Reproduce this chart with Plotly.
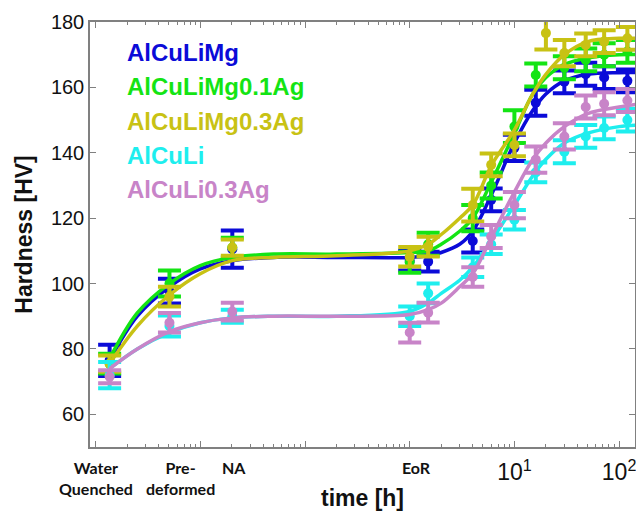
import numpy as np
import plotly.graph_objects as go

# Alloys, in drawing order
alloys = ["AlCuLiMg", "AlCuLiMg0.1Ag", "AlCuLiMg0.3Ag", "AlCuLi", "AlCuLi0.3Ag"]
colors = ["#0b0bd8", "#14e414", "#c8c214", "#1eeeee", "#c884c8"]

# Measurement times [h]: water quenched, pre-deformed, natural ageing,
# end of ramp, then artificial ageing
t_meas = [0.00136, 0.00507, 0.0202, 1, 1.5, 4, 6, 10, 16, 20, 30, 48, 72, 120]

hv_mg      = [76.5, 97.7, 110.5, 107, 106.7, 113, 125.6, 141.5, 155.3, None, 161.7, 164, 163, 162]
hv_mg01ag  = [75.5, 100, 111, 106.5, 112, 120, 130, 148, 163.8, None, 166, 168.4, 170, 171]
hv_mg03ag  = [75.5, 96, 111, 108.2, 111.3, 124, 136.3, 142.4, None, 176.6, 170.5, 173, 174, 175]
hv_li      = [72, 87, 90, 90, 97, 105, 112, 119.5, 134, None, 140.3, 145, 147.6, 150]
hv_li03ag  = [71.5, 88, 91.4, 85, 91.1, 102, 114.4, 124, 137.9, None, 145, 154, 155, 156]

err_mg     = [4.8, 3.8, 5.7, 3, 3, 3.5, 3.5, 4, 4, None, 3.5, 3.5, 3.5, 3.5]
err_mg01ag = [3, 4, 3, 3.2, 3.5, 4, 4, 5, 3.5, None, 3.5, 3.5, 3.5, 3.5]
err_mg03ag = [2.5, 3, 2.5, 3, 3, 5, 3.5, 3.5, None, 5, 4, 3.5, 3.5, 3.5]
err_li     = [4, 3.2, 2, 3, 3, 3, 3, 3, 3, None, 3.5, 3.5, 3.5, 3.5]
err_li03ag = [2, 3, 2.7, 3, 3, 3, 3.5, 4, 4, None, 4, 3.5, 3.5, 3.5]

# Fitted hardening curves, sampled along the time axis [h]
t_fit = [0.00136, 0.0025, 0.00507, 0.01, 0.0202, 0.05, 0.2, 1, 1.5, 2, 3, 4, 6,
         10, 15, 20, 30, 50, 100, 160]
fit_mg     = [76.5, 90, 99, 104.5, 107, 108, 108, 108, 108.5, 109.5, 112, 116, 127,
              143, 153, 158, 162, 164, 164.5, 164.5]
fit_mg01ag = [77, 91, 100, 105.5, 108, 109, 109, 109.5, 110, 112, 116, 120, 131,
              146, 158, 163, 167, 169, 170, 170]
fit_mg03ag = [75.5, 87, 96.5, 103, 107, 108, 108.5, 110, 112, 115, 120, 124, 136,
              147, 158, 164, 170, 174, 175, 175]
fit_li     = [74, 80, 85, 88, 89.5, 90, 90, 91.5, 94, 97, 101, 105, 113,
              124, 133, 138, 143, 146, 148, 148.5]
fit_li03ag = [74, 80, 85.3, 88, 89.5, 90, 90, 90.5, 92, 94, 99, 103, 114,
              128, 138, 143, 148, 152, 154, 155]

hv_all = [hv_mg, hv_mg01ag, hv_mg03ag, hv_li, hv_li03ag]
err_all = [err_mg, err_mg01ag, err_mg03ag, err_li, err_li03ag]
fit_all = [fit_mg, fit_mg01ag, fit_mg03ag, fit_li, fit_li03ag]

# Process-step labels under the time axis
step_labels = ["Water<br>Quenched", "Pre-<br>deformed", "NA", "EoR"]
step_t = [0.001, 0.0065, 0.021, 1.15]

y_ticks = [60, 80, 100, 120, 140, 160, 180]
x_decades = [1e-3, 1e-2, 1e-1, 1e0, 1e1, 1e2]
x_decade_text = ["", "", "", "", "10<sup>1</sup>", "10<sup>2</sup>"]

x_range = [-3.054, 2.152]
minor_vals = [k * 10.0 ** n for n in range(-3, 3) for k in range(2, 10)
              if np.log10(k * 10.0 ** n) < x_range[1]]

fig = go.Figure()
for name, col, hv, err, fit in zip(alloys, colors, hv_all, err_all, fit_all):
    fig.add_trace(go.Scatter(
        x=t_meas, y=hv, mode="markers", name=name,
        marker=dict(color=col, size=10),
        error_y=dict(type="data", array=err, color=col, thickness=4, width=11.5),
        showlegend=False))
    fig.add_trace(go.Scatter(
        x=t_fit, y=fit, mode="lines", name=name + " fit",
        line=dict(color=col, width=3.5, shape="spline", smoothing=1.0),
        showlegend=False))

axis_col = "#808080"
fig.update_xaxes(
    type="log", range=x_range,
    tickvals=x_decades, ticktext=x_decade_text,
    ticks="inside", ticklen=6, tickwidth=1, tickcolor=axis_col,
    minor=dict(tickvals=minor_vals, ticks="inside", ticklen=3, tickcolor=axis_col),
    showline=True, linecolor=axis_col, linewidth=1.5, mirror="ticks",
    showgrid=False, zeroline=False,
    ticklabeloverflow="allow", ticklabelstandoff=4,
    tickfont=dict(family="Liberation Sans, Arial", size=23, color="#111"),
    title=dict(text="<b>time [h]</b>", standoff=26,
               font=dict(family="Liberation Sans, Arial", size=23, color="#111")),
)
fig.update_yaxes(
    range=[50, 180], tickvals=y_ticks,
    ticks="inside", ticklen=6, tickwidth=1, tickcolor=axis_col,
    showline=True, linecolor=axis_col, linewidth=1.5, mirror="ticks",
    showgrid=False, zeroline=False,
    tickfont=dict(family="Liberation Sans, Arial", size=20, color="#111"),
    title=dict(text="<b>Hardness [HV]</b>", standoff=12,
               font=dict(family="Liberation Sans, Arial", size=23, color="#111")),
)

annotations = []
for lab, t in zip(step_labels, step_t):
    annotations.append(dict(
        x=np.log10(t), xref="x", y=0, yref="paper", yanchor="top", yshift=-9,
        text="<b>" + lab + "</b>", showarrow=False,
        font=dict(family="Lato, Open Sans", size=16, color="#111")))

for i, (name, col) in enumerate(zip(alloys, colors)):
    annotations.append(dict(
        x=0.064, xref="paper", xanchor="left",
        y=0.928 - i * 0.0805, yref="paper", yanchor="middle",
        text="<b>" + name + "</b>", showarrow=False,
        font=dict(family="Liberation Sans, Arial", size=24, color=col)))

fig.update_layout(
    width=636, height=511,
    margin=dict(l=90, r=1, t=22, b=64, autoexpand=False),
    paper_bgcolor="white", plot_bgcolor="white",
    annotations=annotations,
)

fig.write_html("out.html")
